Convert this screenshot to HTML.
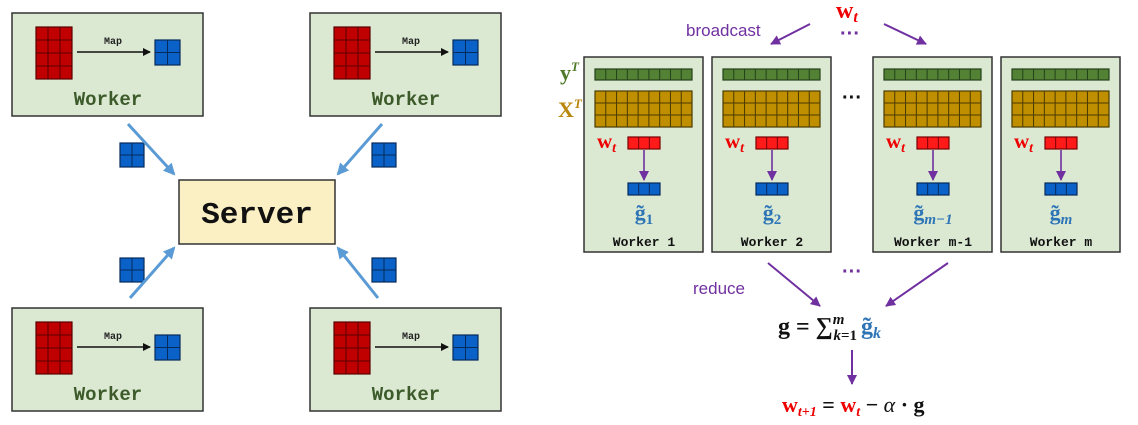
<!DOCTYPE html>
<html><head><meta charset="utf-8"><style>
html,body{margin:0;padding:0;background:#fff}
svg{display:block}
.mono{font-family:"Liberation Mono",monospace;font-weight:bold}
.ser{font-family:"Liberation Serif",serif;font-weight:bold}
.sans{font-family:"Liberation Sans",sans-serif}
</style></head><body>
<svg id="s" width="1138" height="425" viewBox="0 0 1138 425" xmlns="http://www.w3.org/2000/svg">
<defs>
<marker id="ab" markerWidth="8" markerHeight="8" refX="7" refY="4" orient="auto" markerUnits="userSpaceOnUse"><path d="M0,0 L8,4 L0,8 z" fill="#111"/></marker>
<marker id="abl" markerWidth="12" markerHeight="12" refX="10" refY="6" orient="auto" markerUnits="userSpaceOnUse"><path d="M0,0 L12,6 L0,12 z" fill="#5b9bd5"/></marker>
<marker id="ap" markerWidth="10" markerHeight="10" refX="9" refY="5" orient="auto" markerUnits="userSpaceOnUse"><path d="M0,0 L10,5 L0,10 z" fill="#7030a0"/></marker>
</defs>
<g id="g"></g>
<rect x="179" y="180" width="156" height="64" fill="#fbf0c4" stroke="#333" stroke-width="1.5"/>
<text x="257" y="223" text-anchor="middle" class="mono" font-size="31" fill="#111">Server</text>
<line x1="128" y1="124" x2="174" y2="174" stroke="#5b9bd5" stroke-width="3" marker-end="url(#abl)"/>
<line x1="382" y1="124" x2="338" y2="174" stroke="#5b9bd5" stroke-width="3" marker-end="url(#abl)"/>
<line x1="130" y1="298" x2="174" y2="248" stroke="#5b9bd5" stroke-width="3" marker-end="url(#abl)"/>
<line x1="378" y1="298" x2="338" y2="248" stroke="#5b9bd5" stroke-width="3" marker-end="url(#abl)"/>
<text x="836" y="18" class="ser" font-size="24" fill="#e00">w<tspan font-style="italic" font-size="16" dy="4">t</tspan></text>
<text x="686" y="36" class="sans" font-size="17" fill="#7030a0">broadcast</text>
<text x="850" y="40" text-anchor="middle" class="sans" font-size="20" font-weight="bold" fill="#7030a0">···</text>
<line x1="810" y1="24" x2="771" y2="44" stroke="#7030a0" stroke-width="2" marker-end="url(#ap)"/>
<line x1="884" y1="24" x2="926" y2="44" stroke="#7030a0" stroke-width="2" marker-end="url(#ap)"/>
<text x="560" y="80" class="ser" font-size="22" fill="#4f7a28">y<tspan font-size="13" dy="-9" font-style="italic">T</tspan></text>
<text x="558" y="117" class="ser" font-size="22" fill="#b8860b">X<tspan font-size="13" dy="-9" font-style="italic">T</tspan></text>
<text x="852" y="104" text-anchor="middle" class="sans" font-size="20" font-weight="bold" fill="#111">···</text>
<text x="852" y="278" text-anchor="middle" class="sans" font-size="20" font-weight="bold" fill="#7030a0">···</text>
<text x="693" y="294" class="sans" font-size="17" fill="#7030a0">reduce</text>
<line x1="768" y1="263" x2="820" y2="306" stroke="#7030a0" stroke-width="2" marker-end="url(#ap)"/>
<line x1="948" y1="263" x2="886" y2="306" stroke="#7030a0" stroke-width="2" marker-end="url(#ap)"/>
<text x="778" y="334" class="ser" font-size="24" fill="#111">g = ∑<tspan font-size="15" dy="-10" font-style="italic">m</tspan><tspan font-size="15" dx="-11" dy="16" font-style="italic">k</tspan><tspan font-size="15" dy="0">=1</tspan><tspan fill="#2e75b6" dy="-6" dx="4">g̃</tspan><tspan fill="#2e75b6" font-size="16" dy="4" font-style="italic">k</tspan></text>
<line x1="852" y1="350" x2="852" y2="384" stroke="#7030a0" stroke-width="2" marker-end="url(#ap)"/>
<text x="782" y="412" class="ser" font-size="22" fill="#111"><tspan fill="#e00">w</tspan><tspan fill="#e00" font-size="14" dy="4" font-style="italic">t+1</tspan><tspan dy="-4"> = </tspan><tspan fill="#e00">w</tspan><tspan fill="#e00" font-size="14" dy="4" font-style="italic">t</tspan><tspan dy="-4"> − </tspan><tspan font-style="italic" font-weight="normal">α</tspan> · g</text>
</svg>
<script>
var NS="http://www.w3.org/2000/svg",G=document.getElementById("g");
function el(t,a,txt){var e=document.createElementNS(NS,t);for(var k in a)e.setAttribute(k,a[k]);if(txt)e.textContent=txt;G.appendChild(e);return e;}
function grid(x,y,w,h,c,r,fill,st){el("rect",{x:x,y:y,width:w,height:h,fill:fill,stroke:st,"stroke-width":1.2});
for(var i=1;i<c;i++){var xx=x+w*i/c;el("line",{x1:xx,y1:y,x2:xx,y2:y+h,stroke:st,"stroke-width":1});}
for(var j=1;j<r;j++){var yy=y+h*j/r;el("line",{x1:x,y1:yy,x2:x+w,y2:yy,stroke:st,"stroke-width":1});}}
[[0,0],[298,0],[0,295],[298,295]].forEach(function(o){var dx=o[0],dy=o[1];
el("rect",{x:12+dx,y:13+dy,width:191,height:103,fill:"#dbe9d3",stroke:"#333","stroke-width":1.5});
grid(36+dx,27+dy,36,52,3,4,"#c00000","#5a0000");
el("line",{x1:77+dx,y1:52+dy,x2:150+dx,y2:52+dy,stroke:"#111","stroke-width":1.6,"marker-end":"url(#ab)"});
el("text",{x:113+dx,y:44+dy,"text-anchor":"middle","class":"mono","font-size":10,fill:"#222"},"Map");
grid(155+dx,40+dy,25,25,2,2,"#0a62c8","#062a5a");
el("text",{x:108+dx,y:105+dy,"text-anchor":"middle","class":"mono","font-size":19,fill:"#3d5a2a"},"Worker");});
[[120,143],[372,143],[120,258],[372,258]].forEach(function(p){grid(p[0],p[1],24,24,2,2,"#0a62c8","#062a5a");});
var labs=[["1",""],["2",""],["m−1","i"],["m","i"]],nm=["Worker 1","Worker 2","Worker m-1","Worker m"];
[584,712,873,1001].forEach(function(x,i){
el("rect",{x:x,y:57,width:119,height:195,fill:"#dbe9d3",stroke:"#333","stroke-width":1.5});
grid(x+11,69,97,11,9,1,"#548235","#24401a");
grid(x+11,91,97,36,9,3,"#bf8f00","#4a3a00");
var t=el("text",{x:x+13,y:148,"class":"ser","font-size":21,fill:"#e00"},"w");var s=document.createElementNS(NS,"tspan");s.setAttribute("font-size","14");s.setAttribute("dy","4");s.setAttribute("font-style","italic");s.textContent="t";t.appendChild(s);
grid(x+44,137,32,12,3,1,"#ff1a1a","#700");
el("line",{x1:x+60,y1:150,x2:x+60,y2:180,stroke:"#7030a0","stroke-width":1.6,"marker-end":"url(#ap)"});
grid(x+44,183,32,12,3,1,"#0a62c8","#062a5a");
var g=el("text",{x:x+60,y:220,"text-anchor":"middle","class":"ser","font-size":22,fill:"#2e75b6"},"g̃");var s2=document.createElementNS(NS,"tspan");s2.setAttribute("font-size","15");s2.setAttribute("dy","4");if(labs[i][1])s2.setAttribute("font-style","italic");s2.textContent=labs[i][0];g.appendChild(s2);
el("text",{x:x+60,y:246,"text-anchor":"middle","class":"mono","font-size":13,fill:"#111"},nm[i]);});
</script>
</body></html>
